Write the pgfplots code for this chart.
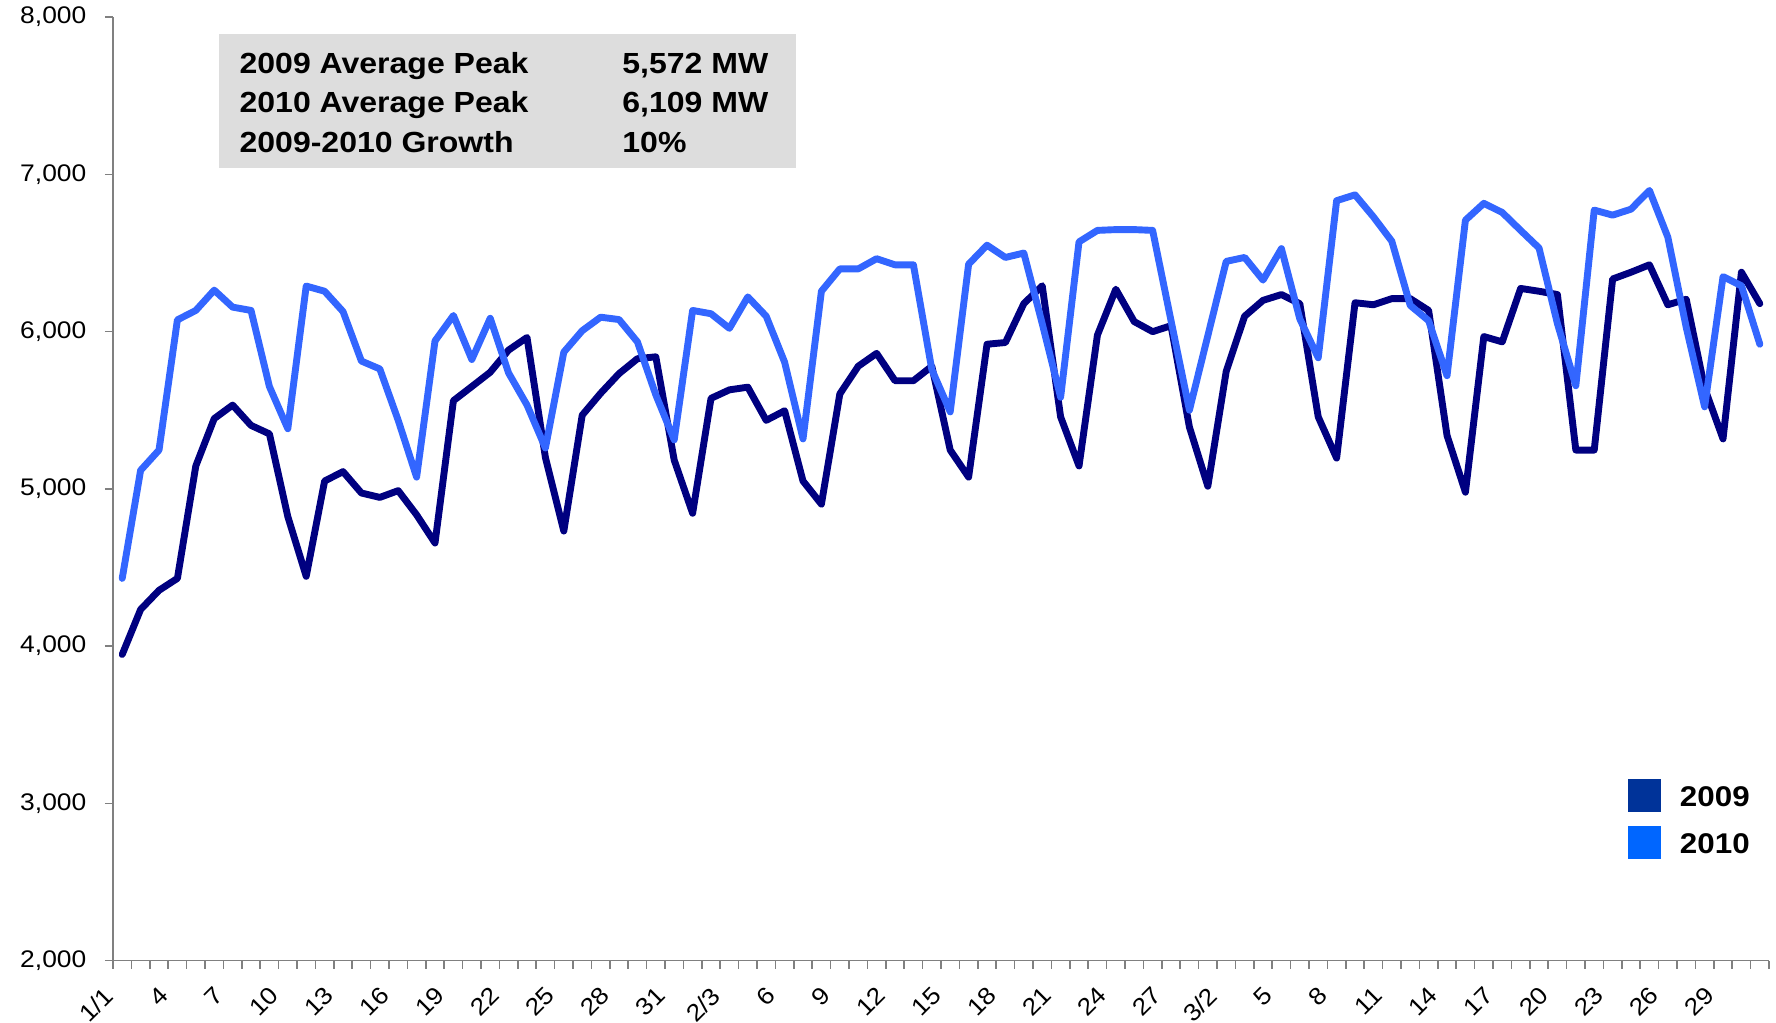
\documentclass[border=0pt]{standalone}
\usepackage{fontspec}
\setmainfont{Liberation Sans}[FakeStretch=1.1]
\usepackage{pgfplots}
\usepackage{pgfplotstable}
\pgfplotsset{compat=1.18}
\definecolor{c09}{HTML}{000080}
\definecolor{c10}{HTML}{3366FF}
\definecolor{l09}{HTML}{003399}
\definecolor{l10}{HTML}{0066FF}
\definecolor{boxgray}{HTML}{DDDDDD}
\definecolor{axgray}{HTML}{808080}

\pgfplotstableread{
day y2009 y2010
1 3946 4430
2 4232 5117
3 4354 5246
4 4430 6074
5 5145 6134
6 5446 6263
7 5532 6155
8 5403 6134
9 5349 5650
10 4823 5382
11 4443 6289
12 5049 6256
13 5109 6127
14 4973 5812
15 4945 5762
16 4988 5435
17 4834 5074
18 4655 5940
19 5560 6102
20 5650 5822
21 5741 6084
22 5882 5736
23 5962 5532
24 5199 5259
25 4731 5869
26 5468 6005
27 5607 6091
28 5732 6076
29 5827 5934
30 5839 5597
31 5182 5311
32 4844 6134
33 5575 6113
34 5629 6020
35 5646 6220
36 5435 6097
37 5496 5805
38 5049 5317
39 4902 6256
40 5603 6398
41 5779 6398
42 5861 6463
43 5687 6424
44 5687 6424
45 5779 5758
46 5246 5489
47 5074 6428
48 5919 6549
49 5930 6471
50 6177 6499
51 6291 6050
52 5457 5582
53 5145 6570
54 5977 6643
55 6269 6648
56 6063 6648
57 5999 6643
58 6037 6069
59 5392 5500
60 5016 5973
61 5747 6446
62 6097 6471
63 6198 6327
64 6235 6527
65 6177 6080
66 5457 5833
67 5195 6832
68 6183 6869
69 6170 6729
70 6209 6574
71 6209 6166
72 6134 6069
73 5339 5719
74 4978 6708
75 5968 6815
76 5934 6757
77 6274 6643
78 6256 6531
79 6235 6050
80 5246 5655
81 5246 6772
82 6334 6740
83 6377 6778
84 6424 6897
85 6170 6600
86 6205 6026
87 5640 5521
88 5317 6349
89 6377 6291
90 6177 5919
}\peaks

\begin{document}
\begin{tikzpicture}
\begin{axis}[
  name=ax,
  scale only axis,
  width=552pt, height=314.5pt,
  xmin=0.5, xmax=90.5,
  ymin=2000, ymax=8000,
  axis lines=left,
  axis line style={-, draw=axgray, line width=0.5pt},
  ytick={2000,3000,...,8000},
  scaled y ticks=false,
  xtick={1,4,...,88},
  xticklabels={1/1,4,7,10,13,16,19,22,25,28,31,2/3,6,9,12,15,18,21,24,27,3/2,5,8,11,14,17,20,23,26,29},
  minor xtick={0.5,1.5,...,90.5},
  tick align=outside,
  major tick length=2.7pt,
  minor tick length=2.7pt,
  tick style={draw=axgray, line width=0.5pt},
  major x tick style={draw=none},
  tick label style={font=\fontsize{8}{9.5}\selectfont},
  yticklabel style={inner sep=0pt, anchor=east, xshift=-6pt,
    /pgf/number format/1000 sep={,}, /pgf/number format/assume math mode=true},
  xticklabel style={inner sep=0pt, xshift=-6.5pt, yshift=-5.3pt, rotate=45, anchor=north east},
  legend style={draw=none, fill=none, inner sep=0pt, outer sep=0pt,
    at={(axis description cs:0.9147,0.1924)}, anchor=north west,
    row sep=4.6pt, column sep=6.4pt,
    font=\bfseries\fontsize{9.5}{11}\selectfont,
    nodes={inner sep=0pt}},
  legend cell align=left,
]
\addplot[c09, line width=2.3pt, line join=round, line cap=round, forget plot] table[x=day, y=y2009] {\peaks};
\addplot[c10, line width=2.3pt, line join=round, line cap=round, forget plot] table[x=day, y=y2010] {\peaks};
\addlegendimage{legend image code/.code={\fill[l09] (0pt,-4.1pt) rectangle (10.6pt,6.5pt);}}
\addlegendentry{2009}
\addlegendimage{legend image code/.code={\fill[l10] (0pt,-4.1pt) rectangle (10.6pt,6.5pt);}}
\addlegendentry{2010}
\end{axis}
\fill[boxgray] (ax.north west) ++(35.2pt,-5.7pt) rectangle ++(192.6pt,-44.5pt);
\begin{scope}[every node/.style={inner sep=0pt, anchor=base west, font=\bfseries\fontsize{9.7}{11}\selectfont}]
\path (ax.north west) ++(42pt,-18.9pt) node {2009 Average Peak};
\path (ax.north west) ++(169.6pt,-18.9pt) node {5,572 MW};
\path (ax.north west) ++(42pt,-31.8pt) node {2010 Average Peak};
\path (ax.north west) ++(169.6pt,-31.8pt) node {6,109 MW};
\path (ax.north west) ++(42pt,-45pt) node {2009-2010 Growth};
\path (ax.north west) ++(169.6pt,-45pt) node {10\%};
\end{scope}
\pgfresetboundingbox
\path[use as bounding box] (ax.south west) ++(-37.67pt,-20.83pt) rectangle ([shift={(2.33pt,5.67pt)}]ax.north east);
\end{tikzpicture}
\end{document}
